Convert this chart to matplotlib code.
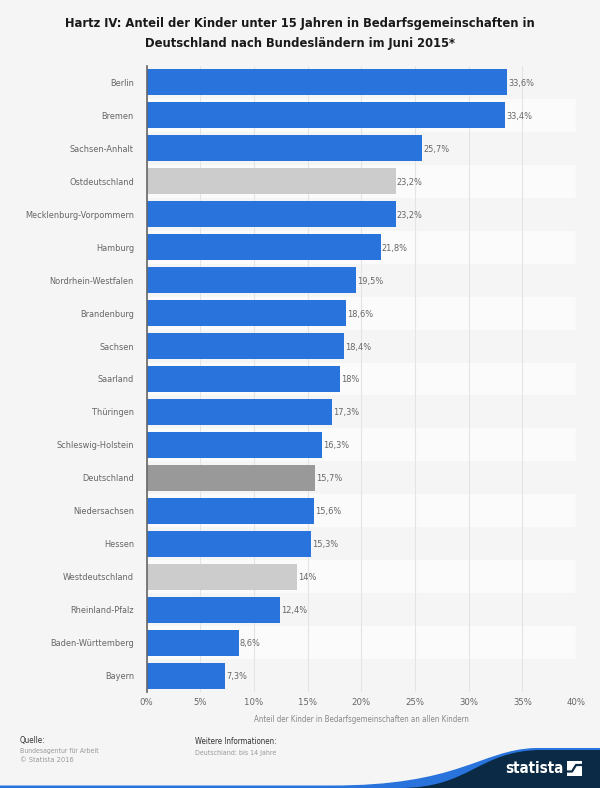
"""Hartz IV: Kinder in Bedarfsgemeinschaften nach Bundeslaendern."""
import matplotlib
matplotlib.use('Agg')
import matplotlib.pyplot as plt
import matplotlib.patches as mpatches
from matplotlib.path import Path

W, H = 600, 788

regions = ['Berlin', 'Bremen', 'Sachsen-Anhalt', 'Ostdeutschland', 'Mecklenburg-Vorpommern',
           'Hamburg', 'Nordrhein-Westfalen', 'Brandenburg', 'Sachsen', 'Saarland', 'Thüringen',
           'Schleswig-Holstein', 'Deutschland', 'Niedersachsen', 'Hessen', 'Westdeutschland',
           'Rheinland-Pfalz', 'Baden-Württemberg', 'Bayern']
values = [33.6, 33.4, 25.7, 23.2, 23.2, 21.8, 19.5, 18.6, 18.4, 18, 17.3, 16.3, 15.7, 15.6,
          15.3, 14, 12.4, 8.6, 7.3]
value_labels = ['33,6%', '33,4%', '25,7%', '23,2%', '23,2%', '21,8%', '19,5%', '18,6%', '18,4%',
                '18%', '17,3%', '16,3%', '15,7%', '15,6%', '15,3%', '14%', '12,4%', '8,6%', '7,3%']
xticks = [0, 5, 10, 15, 20, 25, 30, 35, 40]
xtick_labels = ['0%', '5%', '10%', '15%', '20%', '25%', '30%', '35%', '40%']

# Colors
bg = '#F5F5F5'
band = '#FBFBFB'
blue = '#2873DC'
light_gray = '#CCCCCC'
dark_gray = '#999999'
navy = '#0A2A45'
bar_colors = {'Ostdeutschland': light_gray, 'Westdeutschland': light_gray, 'Deutschland': dark_gray}

cond = dict(family='DejaVu Sans', stretch='condensed')

fig = plt.figure(figsize=(W / 100, H / 100), dpi=100, facecolor=bg)

# Plot area, pixel positions from the reference
left, right, top, bottom = 146.5, 576, 66, 692
ax = fig.add_axes([left / W, 1 - bottom / H, (right - left) / W, (bottom - top) / H], facecolor=bg)
ax.set_xlim(0, 40)
ax.set_ylim(len(regions) - 0.5, -0.5)

for i, (name, val, lab) in enumerate(zip(regions, values, value_labels)):
    if i % 2 == 1:
        ax.axhspan(i - 0.5, i + 0.5, color=band, lw=0, zorder=0)
    ax.barh(i, val, height=0.79, color=bar_colors.get(name, blue), zorder=3)
    ax.text(val + 0.1, i + 0.03, lab, fontsize=6.6, color='#666666', va='center', ha='left',
            zorder=4, **cond)

ax.set_xticks(xticks)
ax.set_xticklabels(xtick_labels, fontsize=6.8, color='#666666', **cond)
ax.set_yticks(range(len(regions)))
ax.set_yticklabels(regions, fontsize=6.6, color='#666666', **cond)
ax.tick_params(axis='both', length=0)
ax.tick_params(axis='x', pad=4.5)
ax.tick_params(axis='y', pad=9)
ax.grid(axis='x', color='#E4E4E4', lw=0.8, zorder=1)
ax.set_axisbelow(True)
for s in ['top', 'right', 'bottom']:
    ax.spines[s].set_visible(False)
ax.spines['left'].set_color('#666666')
ax.spines['left'].set_linewidth(1.2)
ax.spines['left'].set_zorder(5)


def px(x, y):
    return x / W, 1 - y / H


# Title
fig.text(*px(300, 24), 'Hartz IV: Anteil der Kinder unter 15 Jahren in Bedarfsgemeinschaften in',
         fontsize=9.3, fontweight='bold', color='#1A1A1A', ha='center', va='center', **cond)
fig.text(*px(300, 43), 'Deutschland nach Bundesländern im Juni 2015*',
         fontsize=9.3, fontweight='bold', color='#1A1A1A', ha='center', va='center', **cond)

# Axis title
fig.text(*px(361, 719), 'Anteil der Kinder in Bedarfsgemeinschaften an allen Kindern',
         fontsize=5.7, color='#888888', ha='center', va='center', **cond)

# Footer
fig.text(*px(20, 741), 'Quelle:', fontsize=5.8, color='#333333', va='center', **cond)
fig.text(*px(20, 750.5), 'Bundesagentur für Arbeit', fontsize=4.95, color='#999999', va='center', **cond)
fig.text(*px(20, 760), '© Statista 2016', fontsize=5.3, color='#999999', va='center', **cond)
fig.text(*px(195, 741.5), 'Weitere Informationen:', fontsize=5.7, color='#333333', va='center', **cond)
fig.text(*px(195, 753), 'Deutschland: bis 14 Jahre', fontsize=5.0, color='#999999', va='center', **cond)

# Wave along the bottom edge
overlay = fig.add_axes([0, 0, 1, 1], facecolor='none')
overlay.set_xlim(0, W)
overlay.set_ylim(H, 0)
overlay.axis('off')

C = Path.CURVE4
L = Path.LINETO
M = Path.MOVETO
blue_path = Path([(0, 785.5), (330, 785.5), (460, 786), (480, 750), (535, 748),
                  (600, 748), (600, 788), (0, 788), (0, 785.5)],
                 [M, L, C, C, C, L, L, L, L])
navy_path = Path([(400, 788), (470, 788), (478, 751), (540, 750),
                  (600, 750), (600, 788), (400, 788)],
                 [M, C, C, C, L, L, L])
overlay.add_patch(mpatches.PathPatch(blue_path, facecolor=blue, edgecolor='none'))
overlay.add_patch(mpatches.PathPatch(navy_path, facecolor=navy, edgecolor='none'))
overlay.text(505.5, 768.5, 'statista', fontsize=10.8, fontweight='bold', color='white',
             va='center', ha='left', **cond)

# Logo square
overlay.add_patch(mpatches.Rectangle((566.5, 761), 15, 14.5, facecolor='white', edgecolor='none'))
overlay.plot([566, 572, 576, 582], [771.5, 771.5, 765, 765], color=navy, lw=1.6, solid_capstyle='butt')

fig.savefig('out.png', dpi=100, facecolor=bg)
